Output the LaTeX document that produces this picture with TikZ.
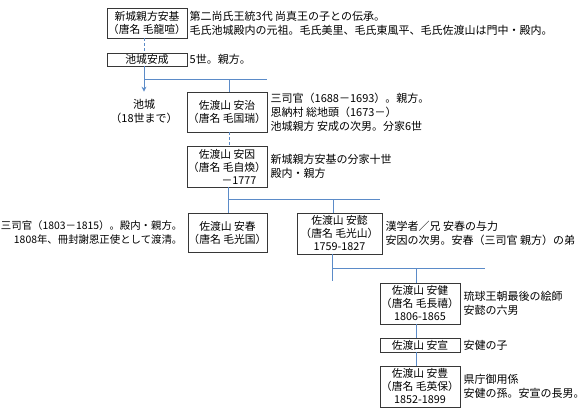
\documentclass[tikz,border=0pt]{standalone}
\usepackage{fontspec}
\setmainfont{Noto Sans CJK JP}
\usetikzlibrary{arrows.meta,calc}
\definecolor{lineblue}{RGB}{91,139,200}
\definecolor{boxline}{RGB}{55,55,55}
\begin{document}
\begin{tikzpicture}[x=1pt,y=-1pt,
  famebox/.style={draw=boxline,line width=0.9pt,fill=white,inner sep=0pt,align=center,font=\fontsize{10.8}{13}\selectfont},
  note/.style={inner sep=0pt,align=left,font=\fontsize{11}{14}\selectfont},
  conn/.style={draw=lineblue,line width=0.9pt},
  dconn/.style={conn,dash pattern=on 3pt off 2pt}]
\useasboundingbox (0,0) rectangle (586,412);
% boxes
\node[famebox,minimum width=80pt,minimum height=30pt] (b1) at (147,23) {新城親方安基\\（唐名 毛龍喧）};
\node[famebox,minimum width=80pt,minimum height=13pt] (b2) at (147,59.5) {池城安成};
\node[famebox,minimum width=80pt,minimum height=40pt] (b3) at (227,112) {佐渡山 安治\\（唐名 毛国瑞）};
\node[famebox,minimum width=80pt,minimum height=41pt] (b4) at (227,166.5) {佐渡山 安因\\（唐名 毛自煥）\\\hspace*{24pt}－1777};
\node[famebox,minimum width=79pt,minimum height=39pt] (b5) at (227.5,232.5) {佐渡山 安春\\（唐名 毛光国）};
\node[famebox,minimum width=85pt,minimum height=41pt] (b6) at (339.5,233.5) {佐渡山 安懿\\（唐名 毛光山）\\1759-1827};
\node[famebox,minimum width=80pt,minimum height=41pt] (b7) at (420,303.5) {佐渡山 安健\\（唐名 毛長禧）\\1806-1865};
\node[famebox,minimum width=80pt,minimum height=14pt] (b8) at (420,345) {佐渡山 安宣};
\node[famebox,minimum width=80pt,minimum height=41pt] (b9) at (420,386.5) {佐渡山 安豊\\（唐名 毛英保）\\1852-1899};
\node[note,align=center] (ikeg) at (144,111) {池城\\（18世まで）};
% notes
\node[note,anchor=west] (t1) at ($(b1.east)+(2,0)$) {第二尚氏王統3代 尚真王の子との伝承。\\毛氏池城殿内の元祖。毛氏美里、毛氏東風平、毛氏佐渡山は門中・殿内。};
\node[note,anchor=west] (t2) at ($(b2.east)+(2,0)$) {5世。親方。};
\node[note,anchor=west] (t3) at ($(b3.east)+(3,0)$) {三司官（1688－1693）。親方。\\恩納村 総地頭（1673－）\\池城親方 安成の次男。分家6世};
\node[note,anchor=west] (t4) at ($(b4.east)+(3,0)$) {新城親方安基の分家十世\\殿内・親方};
\node[note,anchor=east,align=right,font=\fontsize{10.4}{14}\selectfont] (t5) at ($(b5.west)+(-5,0)$) {三司官（1803－1815）。殿内・親方。\\1808年、冊封謝恩正使として渡清。};
\node[note,anchor=west] (t6) at ($(b6.east)+(3,0)$) {漢学者／兄 安春の与力\\安因の次男。安春（三司官 親方）の弟};
\node[note,anchor=west] (t7) at ($(b7.east)+(3,0)$) {琉球王朝最後の絵師\\安懿の六男};
\node[note,anchor=west] (t8) at ($(b8.east)+(3,0)$) {安健の子};
\node[note,anchor=west] (t9) at ($(b9.east)+(3,0)$) {県庁御用係\\安健の孫。安宣の長男。};
% junctions
\coordinate (j1) at (144,79);
\coordinate (j1c) at (229,79);
\coordinate (j1e) at (267,79);
\coordinate (j2) at (228,199);
\coordinate (j2c) at (333,199);
\coordinate (j2e) at (380,199);
\coordinate (j3) at (332,268);
\coordinate (j3c) at (416,268);
\coordinate (j3e) at (485,268);
\coordinate (j3d) at (332,281);
% connectors
\draw[dconn] ([xshift=-3pt]b1.south) -- ([xshift=-3pt]b2.north);
\draw[conn] ([xshift=-3pt]b2.south) -- (j1) -- (j1e);
\draw[conn,-{Stealth[length=5pt,width=5pt]}] (j1) -- ([yshift=7pt]ikeg.north);
\draw[conn] (j1c) -- ([xshift=2pt]b3.north);
\draw[dconn] ([xshift=2pt]b3.south) -- ([xshift=2pt]b4.north);
\draw[conn] ([xshift=1pt]b4.south) -- (j2) -- (j2e);
\draw[conn] (j2) -- ([xshift=0.5pt]b5.north);
\draw[conn] (j2c) -- ([xshift=-6.5pt]b6.north);
\draw[conn] ([xshift=-7.5pt]b6.south) -- (j3) -- (j3e);
\draw[conn] (j3) -- (j3d);
\draw[conn] (j3c) -- ([xshift=-4pt]b7.north);
\draw[conn] ([xshift=-4pt]b7.south) -- ([xshift=-4pt]b8.north);
\draw[conn] ([xshift=-4pt]b8.south) -- ([xshift=-4pt]b9.north);
\end{tikzpicture}
\end{document}
